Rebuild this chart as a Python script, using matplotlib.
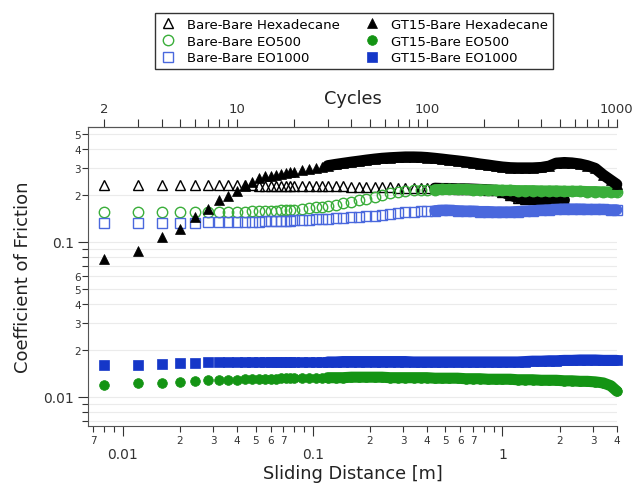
import numpy as np
import matplotlib
matplotlib.use("Agg")
import matplotlib.pyplot as plt
from matplotlib.ticker import FixedLocator, FixedFormatter
from matplotlib.lines import Line2D

# sliding distance per cycle [m]
stroke = 0.004

cycles = [2, 3, 4, 5, 6, 7, 8, 9, 10, 11, 12, 13, 14, 15, 16, 17, 18, 19, 20,
          22, 24, 26, 28, 30, 33, 36, 40, 44, 48, 53, 58, 64, 70, 77,
          85, 93, 100, 110, 120, 130, 145, 160, 175, 190, 210, 230, 250, 275, 300,
          330, 360, 400, 440, 480, 530, 580, 640, 700, 770, 850, 930, 1000]

# Bare-Bare Hexadecane (stops near 530 cycles)
bb_hex = [0.232, 0.232, 0.232, 0.232, 0.232, 0.232, 0.232, 0.232, 0.232, 0.232, 0.232,
          0.231, 0.231, 0.231, 0.231, 0.230, 0.230, 0.230, 0.230,
          0.230, 0.230, 0.230, 0.229, 0.229, 0.228, 0.228, 0.227, 0.227, 0.226,
          0.226, 0.225, 0.225, 0.224, 0.224, 0.223, 0.223, 0.222, 0.222, 0.221,
          0.221, 0.220, 0.220, 0.219, 0.218, 0.217, 0.215, 0.210, 0.200, 0.193,
          0.190, 0.188, 0.186, 0.185, 0.185, 0.186]

bb_eo500 = [0.155, 0.155, 0.157, 0.157, 0.156, 0.157, 0.157, 0.157, 0.157, 0.157, 0.158,
            0.158, 0.158, 0.159, 0.159, 0.160, 0.160, 0.161, 0.161,
            0.163, 0.165, 0.167, 0.169, 0.171, 0.174, 0.177, 0.181, 0.186, 0.190,
            0.196, 0.201, 0.206, 0.210, 0.213, 0.215, 0.216, 0.217, 0.217, 0.218,
            0.218, 0.218, 0.218, 0.217, 0.217, 0.216, 0.216, 0.215, 0.215, 0.214,
            0.214, 0.214, 0.213, 0.213, 0.213, 0.212, 0.212, 0.212, 0.211, 0.211,
            0.210, 0.210, 0.210]

bb_eo1000 = [0.133, 0.133, 0.132, 0.133, 0.133, 0.134, 0.134, 0.134, 0.134, 0.135, 0.135,
             0.135, 0.136, 0.136, 0.136, 0.137, 0.137, 0.137, 0.138,
             0.139, 0.139, 0.140, 0.141, 0.141, 0.142, 0.143, 0.144, 0.145, 0.146,
             0.147, 0.149, 0.151, 0.153, 0.155, 0.157, 0.158, 0.159, 0.159, 0.160,
             0.160, 0.159, 0.158, 0.158, 0.157, 0.157, 0.156, 0.156, 0.156, 0.157,
             0.158, 0.159, 0.160, 0.161, 0.162, 0.163, 0.163, 0.163, 0.162, 0.162,
             0.162, 0.161, 0.161]

gt_hex = [0.078, 0.087, 0.108, 0.121, 0.145, 0.163, 0.186, 0.198, 0.213, 0.228, 0.245,
          0.260, 0.265, 0.268, 0.272, 0.275, 0.278, 0.281, 0.284,
          0.290, 0.296, 0.301, 0.306, 0.310, 0.316, 0.321, 0.327, 0.332, 0.337,
          0.342, 0.346, 0.349, 0.351, 0.353, 0.353, 0.352, 0.350, 0.346, 0.342,
          0.338, 0.333, 0.328, 0.323, 0.318, 0.313, 0.308, 0.304, 0.301, 0.300,
          0.300, 0.300, 0.302, 0.308, 0.322, 0.325, 0.323, 0.318, 0.310, 0.298,
          0.270, 0.250, 0.235]

gt_eo500 = [0.0119, 0.0123, 0.0123, 0.0125, 0.0127, 0.0128, 0.0128, 0.0129, 0.0129, 0.0130, 0.0130,
            0.0130, 0.0131, 0.0131, 0.0131, 0.0132, 0.0132, 0.0132, 0.0132,
            0.0133, 0.0133, 0.0133, 0.0133, 0.0133, 0.0133, 0.0133, 0.0134, 0.0134, 0.0134,
            0.0134, 0.0134, 0.0133, 0.0133, 0.0133, 0.0133, 0.0133, 0.0133, 0.0132, 0.0132,
            0.0132, 0.0132, 0.0131, 0.0131, 0.0131, 0.0130, 0.0130, 0.0130, 0.0130, 0.0129,
            0.0129, 0.0129, 0.0128, 0.0128, 0.0128, 0.0127, 0.0127, 0.0126, 0.0126, 0.0125,
            0.0123, 0.0118, 0.0109]

gt_eo1000 = [0.0161, 0.0161, 0.0163, 0.0165, 0.0165, 0.0167, 0.0167, 0.0167, 0.0167, 0.0167, 0.0168,
             0.0168, 0.0168, 0.0168, 0.0168, 0.0168, 0.0168, 0.0168, 0.0168,
             0.0168, 0.0168, 0.0168, 0.0168, 0.0168, 0.0168, 0.0169, 0.0169, 0.0169, 0.0169,
             0.0169, 0.0169, 0.0169, 0.0169, 0.0169, 0.0168, 0.0168, 0.0168, 0.0168, 0.0168,
             0.0168, 0.0168, 0.0168, 0.0168, 0.0168, 0.0168, 0.0168, 0.0168, 0.0168, 0.0168,
             0.0169, 0.0170, 0.0170, 0.0171, 0.0171, 0.0172, 0.0172, 0.0173, 0.0173, 0.0173,
             0.0172, 0.0172, 0.0172]

labels = ["Bare-Bare Hexadecane", "Bare-Bare EO500", "Bare-Bare EO1000",
          "GT15-Bare Hexadecane", "GT15-Bare EO500", "GT15-Bare EO1000"]

x_major = [0.01, 0.1, 1]
x_major_labels = ["0.01", "0.1", "1"]
x_minor = [0.007, 0.008, 0.009, 0.02, 0.03, 0.04, 0.05, 0.06, 0.07, 0.08, 0.09,
           0.2, 0.3, 0.4, 0.5, 0.6, 0.7, 0.8, 0.9, 2, 3, 4]
x_minor_labels = ["7", "", "", "2", "3", "4", "5", "6", "7", "", "",
                  "2", "3", "4", "5", "6", "7", "", "", "2", "3", "4"]
y_major = [0.01, 0.1]
y_major_labels = ["0.01", "0.1"]
y_minor = [0.007, 0.008, 0.009, 0.02, 0.03, 0.04, 0.05, 0.06, 0.07, 0.08, 0.09,
           0.2, 0.3, 0.4, 0.5]
y_minor_labels = ["", "", "", "2", "3", "4", "5", "6", "", "", "",
                  "2", "3", "4", "5"]
top_major = [2, 10, 100, 1000]
top_minor = [3, 4, 5, 6, 7, 8, 9, 20, 30, 40, 50, 60, 70, 80, 90,
             200, 300, 400, 500, 600, 700, 800, 900]

c_green_open = "#3aae3a"
c_blue_open = "#4a68dd"
c_green = "#149414"
c_blue = "#1537c8"

fig = plt.figure(figsize=(6.33, 4.89), dpi=100)
ax = fig.add_axes([0.139, 0.127, 0.836, 0.611])
ax.set_xscale("log")
ax.set_yscale("log")

series = [
    (bb_hex, dict(marker="^", mfc="none", mec="black", ms=7.5, mew=1.0), "black", 110),
    (bb_eo500, dict(marker="o", mfc="none", mec=c_green_open, ms=7.5, mew=1.0), c_green_open, 110),
    (bb_eo1000, dict(marker="s", mfc="none", mec=c_blue_open, ms=7, mew=1.0), c_blue_open, 110),
    (gt_hex, dict(marker="^", mfc="black", mec="black", ms=7.5, mew=0.5), "black", 30),
    (gt_eo500, dict(marker="o", mfc=c_green, mec=c_green, ms=7, mew=0.5), c_green, 30),
    (gt_eo1000, dict(marker="s", mfc=c_blue, mec=c_blue, ms=6.5, mew=0.5), c_blue, 30),
]

handles = []
for (vals, style, col, dense_from), lab in zip(series, labels):
    n = np.array(cycles[:len(vals)])
    d = n * stroke
    v = np.array(vals)
    ax.plot(d, v, ls="none", clip_on=False, zorder=3, **style)
    sel = n >= dense_from
    ax.plot(d[sel], v[sel], color=col, lw=8, solid_capstyle="round",
            clip_on=False, zorder=3)
    handles.append(Line2D([], [], ls="none", **style))

ax.set_xlim(0.00655, 4.02)
ax.set_ylim(0.0065, 0.55)

ax.xaxis.set_major_locator(FixedLocator(x_major))
ax.xaxis.set_major_formatter(FixedFormatter(x_major_labels))
ax.xaxis.set_minor_locator(FixedLocator(x_minor))
ax.xaxis.set_minor_formatter(FixedFormatter(x_minor_labels))
ax.yaxis.set_major_locator(FixedLocator(y_major))
ax.yaxis.set_major_formatter(FixedFormatter(y_major_labels))
ax.yaxis.set_minor_locator(FixedLocator(y_minor))
ax.yaxis.set_minor_formatter(FixedFormatter(y_minor_labels))

ax.tick_params(axis="x", which="major", length=7, width=0.8, pad=8, labelsize=10, colors="#333333")
ax.tick_params(axis="x", which="minor", length=4.5, width=0.8, pad=2, labelsize=7.5, colors="#333333")
ax.tick_params(axis="y", which="major", length=7, width=0.8, pad=3, labelsize=10, colors="#333333")
ax.tick_params(axis="y", which="minor", length=4, width=0.8, pad=1, labelsize=7.5, colors="#333333")

ax.spines["right"].set_visible(False)
for s in ["left", "bottom", "top"]:
    ax.spines[s].set_color("#555555")
    ax.spines[s].set_linewidth(0.8)

ax.grid(True, which="both", axis="y", color="#ebebeb", lw=0.8)
ax.set_axisbelow(True)

ax.set_xlabel("Sliding Distance [m]", fontsize=12.8, color="#222222", labelpad=2)
ax.set_ylabel("Coefficient of Friction", fontsize=13, color="#222222", labelpad=8)

sec = ax.secondary_xaxis("top", functions=(lambda x: x / stroke, lambda c: c * stroke))
sec.set_xticks(top_major)
sec.set_xticklabels([str(t) for t in top_major])
sec.set_xticks(top_minor, minor=True)
sec.set_xticklabels([""] * len(top_minor), minor=True)
sec.tick_params(axis="x", which="both", length=6, width=0.8, pad=3, labelsize=9.5, colors="#333333")
sec.spines["top"].set_color("#555555")
sec.spines["top"].set_linewidth(0.8)
sec.set_xlabel("Cycles", fontsize=12.8, color="#222222", labelpad=-1)

leg = fig.legend(handles, labels, ncol=2, loc="upper center",
                 bbox_to_anchor=(0.559, 0.985), frameon=True, fancybox=False,
                 edgecolor="black", fontsize=9.5, handletextpad=0.8,
                 columnspacing=1.8, borderpad=0.35, labelspacing=0.3,
                 handlelength=1.3)
leg.get_frame().set_linewidth(1.0)

fig.savefig("out.png", dpi=100)
